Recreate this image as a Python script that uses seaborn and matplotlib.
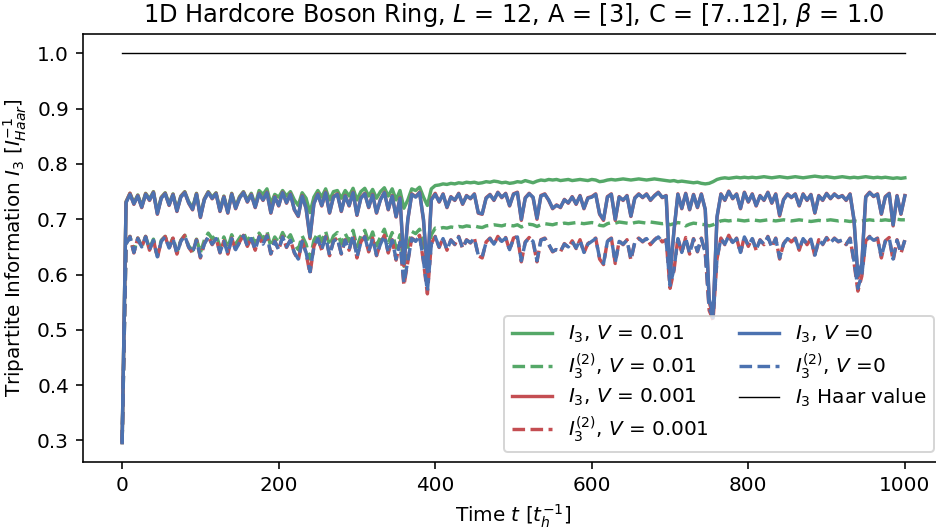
import numpy as np
import pandas as pd
import matplotlib
matplotlib.use("Agg")
import matplotlib.pyplot as plt
import seaborn as sns

# time grid (t_h^-1)
time = np.arange(0, 1001, 5)

# I3, V = 0 (blue solid)
i3_v0 = [
    0.296, 0.730, 0.745, 0.728, 0.742, 0.722, 0.745, 0.735, 0.748, 0.710,
    0.738, 0.746, 0.726, 0.744, 0.715, 0.740, 0.748, 0.730, 0.718, 0.745,
    0.704, 0.735, 0.748, 0.738, 0.746, 0.715, 0.740, 0.712, 0.745, 0.720,
    0.738, 0.748, 0.732, 0.744, 0.722, 0.746, 0.735, 0.748, 0.712, 0.740,
    0.725, 0.748, 0.730, 0.745, 0.718, 0.706, 0.742, 0.720, 0.668, 0.728,
    0.745, 0.725, 0.748, 0.712, 0.740, 0.745, 0.715, 0.742, 0.725, 0.748,
    0.708, 0.738, 0.746, 0.722, 0.744, 0.712, 0.735, 0.748, 0.718, 0.742,
    0.705, 0.738, 0.620, 0.700, 0.745, 0.740, 0.748, 0.700, 0.605, 0.735,
    0.745, 0.732, 0.745, 0.722, 0.740, 0.735, 0.746, 0.728, 0.742, 0.738,
    0.745, 0.712, 0.710, 0.738, 0.744, 0.735, 0.748, 0.740, 0.746, 0.725,
    0.745, 0.748, 0.700, 0.738, 0.746, 0.740, 0.702, 0.742, 0.745, 0.735,
    0.720, 0.725, 0.722, 0.735, 0.730, 0.740, 0.728, 0.742, 0.720, 0.738,
    0.740, 0.745, 0.710, 0.700, 0.740, 0.745, 0.700, 0.740, 0.735, 0.742,
    0.706, 0.738, 0.745, 0.740, 0.745, 0.735, 0.742, 0.748, 0.740, 0.742,
    0.600, 0.680, 0.745, 0.720, 0.746, 0.718, 0.744, 0.722, 0.745, 0.718,
    0.555, 0.530, 0.705, 0.745, 0.735, 0.750, 0.738, 0.745, 0.720, 0.748,
    0.732, 0.745, 0.725, 0.742, 0.735, 0.748, 0.730, 0.745, 0.708, 0.735,
    0.745, 0.740, 0.745, 0.725, 0.745, 0.735, 0.744, 0.712, 0.742, 0.735,
    0.746, 0.738, 0.745, 0.740, 0.742, 0.735, 0.745, 0.700, 0.598, 0.620,
    0.740, 0.748, 0.742, 0.745, 0.710, 0.740, 0.746, 0.690, 0.742, 0.710,
    0.742,
]

# I3^(2), V = 0 (blue dashed)
i32_v0 = [
    0.296, 0.655, 0.668, 0.640, 0.665, 0.650, 0.668, 0.645, 0.662, 0.632,
    0.660, 0.668, 0.648, 0.665, 0.638, 0.660, 0.670, 0.650, 0.640, 0.662,
    0.632, 0.655, 0.668, 0.655, 0.665, 0.640, 0.660, 0.638, 0.665, 0.645,
    0.658, 0.670, 0.652, 0.665, 0.645, 0.668, 0.655, 0.670, 0.638, 0.660,
    0.645, 0.668, 0.650, 0.662, 0.640, 0.628, 0.660, 0.640, 0.605, 0.650,
    0.665, 0.645, 0.668, 0.635, 0.660, 0.665, 0.638, 0.662, 0.645, 0.670,
    0.632, 0.658, 0.668, 0.642, 0.665, 0.635, 0.655, 0.670, 0.640, 0.662,
    0.628, 0.658, 0.585, 0.625, 0.665, 0.660, 0.670, 0.625, 0.570, 0.655,
    0.668, 0.650, 0.665, 0.645, 0.662, 0.655, 0.668, 0.648, 0.662, 0.658,
    0.665, 0.635, 0.632, 0.658, 0.665, 0.655, 0.668, 0.660, 0.666, 0.645,
    0.665, 0.668, 0.625, 0.658, 0.666, 0.660, 0.625, 0.662, 0.665, 0.655,
    0.642, 0.645, 0.642, 0.655, 0.650, 0.660, 0.648, 0.662, 0.640, 0.655,
    0.660, 0.665, 0.630, 0.620, 0.660, 0.665, 0.622, 0.660, 0.655, 0.662,
    0.628, 0.658, 0.665, 0.660, 0.665, 0.655, 0.662, 0.668, 0.660, 0.662,
    0.580, 0.610, 0.665, 0.640, 0.666, 0.638, 0.664, 0.642, 0.665, 0.640,
    0.540, 0.522, 0.630, 0.665, 0.655, 0.670, 0.658, 0.665, 0.640, 0.668,
    0.652, 0.665, 0.645, 0.662, 0.655, 0.668, 0.650, 0.665, 0.630, 0.655,
    0.665, 0.660, 0.665, 0.645, 0.665, 0.655, 0.664, 0.635, 0.662, 0.655,
    0.666, 0.658, 0.665, 0.660, 0.662, 0.655, 0.665, 0.625, 0.575, 0.600,
    0.660, 0.668, 0.662, 0.665, 0.632, 0.660, 0.666, 0.628, 0.662, 0.640,
    0.662,
]

# I3, V = 0.001 (red solid)
i3_v0001 = [
    0.296, 0.731, 0.747, 0.727, 0.743, 0.721, 0.746, 0.734, 0.749, 0.709,
    0.739, 0.747, 0.725, 0.745, 0.714, 0.741, 0.749, 0.729, 0.717, 0.746,
    0.703, 0.736, 0.749, 0.737, 0.747, 0.714, 0.741, 0.711, 0.746, 0.719,
    0.739, 0.749, 0.731, 0.745, 0.721, 0.747, 0.734, 0.749, 0.711, 0.741,
    0.724, 0.749, 0.729, 0.746, 0.717, 0.705, 0.743, 0.719, 0.665, 0.729,
    0.746, 0.724, 0.749, 0.711, 0.741, 0.746, 0.714, 0.743, 0.724, 0.749,
    0.707, 0.739, 0.747, 0.721, 0.745, 0.711, 0.736, 0.749, 0.717, 0.743,
    0.704, 0.739, 0.616, 0.699, 0.746, 0.741, 0.749, 0.698, 0.600, 0.736,
    0.747, 0.731, 0.746, 0.721, 0.741, 0.734, 0.747, 0.727, 0.743, 0.737,
    0.746, 0.711, 0.709, 0.739, 0.745, 0.734, 0.749, 0.739, 0.747, 0.724,
    0.746, 0.749, 0.698, 0.739, 0.747, 0.739, 0.700, 0.743, 0.746, 0.734,
    0.719, 0.726, 0.721, 0.736, 0.729, 0.741, 0.727, 0.743, 0.719, 0.739,
    0.741, 0.746, 0.709, 0.698, 0.741, 0.746, 0.698, 0.741, 0.734, 0.743,
    0.705, 0.739, 0.746, 0.739, 0.746, 0.734, 0.743, 0.749, 0.739, 0.743,
    0.595, 0.678, 0.746, 0.719, 0.747, 0.717, 0.745, 0.721, 0.746, 0.717,
    0.550, 0.525, 0.703, 0.746, 0.734, 0.751, 0.737, 0.746, 0.719, 0.749,
    0.731, 0.746, 0.724, 0.743, 0.734, 0.749, 0.729, 0.746, 0.706, 0.736,
    0.746, 0.739, 0.746, 0.724, 0.746, 0.734, 0.745, 0.711, 0.743, 0.734,
    0.747, 0.737, 0.746, 0.739, 0.743, 0.734, 0.746, 0.698, 0.594, 0.618,
    0.741, 0.749, 0.741, 0.746, 0.709, 0.741, 0.747, 0.688, 0.743, 0.709,
    0.743,
]

# I3^(2), V = 0.001 (red dashed)
i32_v0001 = [
    0.296, 0.656, 0.669, 0.639, 0.666, 0.649, 0.669, 0.644, 0.663, 0.630,
    0.661, 0.669, 0.647, 0.666, 0.637, 0.661, 0.671, 0.649, 0.639, 0.663,
    0.630, 0.656, 0.669, 0.654, 0.666, 0.639, 0.661, 0.637, 0.666, 0.644,
    0.659, 0.671, 0.651, 0.666, 0.644, 0.669, 0.654, 0.671, 0.637, 0.661,
    0.644, 0.669, 0.649, 0.663, 0.639, 0.626, 0.661, 0.639, 0.601, 0.651,
    0.666, 0.644, 0.669, 0.634, 0.661, 0.666, 0.637, 0.663, 0.644, 0.671,
    0.630, 0.659, 0.669, 0.641, 0.666, 0.634, 0.656, 0.671, 0.639, 0.663,
    0.626, 0.659, 0.580, 0.623, 0.666, 0.661, 0.671, 0.623, 0.565, 0.656,
    0.669, 0.649, 0.666, 0.644, 0.663, 0.654, 0.669, 0.647, 0.663, 0.657,
    0.666, 0.634, 0.630, 0.659, 0.666, 0.654, 0.669, 0.659, 0.667, 0.644,
    0.666, 0.669, 0.623, 0.659, 0.667, 0.659, 0.623, 0.663, 0.666, 0.654,
    0.641, 0.646, 0.641, 0.656, 0.649, 0.661, 0.647, 0.663, 0.639, 0.656,
    0.661, 0.666, 0.628, 0.618, 0.661, 0.666, 0.620, 0.661, 0.654, 0.663,
    0.626, 0.659, 0.666, 0.659, 0.666, 0.654, 0.663, 0.669, 0.659, 0.663,
    0.575, 0.607, 0.666, 0.639, 0.667, 0.637, 0.665, 0.641, 0.666, 0.639,
    0.535, 0.518, 0.628, 0.666, 0.654, 0.671, 0.657, 0.666, 0.639, 0.669,
    0.651, 0.666, 0.644, 0.663, 0.654, 0.669, 0.649, 0.666, 0.628, 0.656,
    0.666, 0.659, 0.666, 0.644, 0.666, 0.654, 0.665, 0.633, 0.663, 0.654,
    0.667, 0.657, 0.666, 0.659, 0.663, 0.654, 0.666, 0.622, 0.570, 0.597,
    0.661, 0.669, 0.661, 0.666, 0.630, 0.661, 0.667, 0.625, 0.663, 0.638,
    0.663,
]

# I3, V = 0.01 (green solid)
i3_v001 = [
    0.296, 0.732, 0.747, 0.730, 0.744, 0.724, 0.747, 0.737, 0.750, 0.713,
    0.740, 0.748, 0.728, 0.746, 0.718, 0.742, 0.750, 0.732, 0.721, 0.747,
    0.707, 0.737, 0.750, 0.740, 0.748, 0.718, 0.742, 0.715, 0.747, 0.723,
    0.741, 0.750, 0.735, 0.747, 0.726, 0.752, 0.745, 0.755, 0.728, 0.745,
    0.740, 0.752, 0.742, 0.750, 0.735, 0.725, 0.748, 0.738, 0.712, 0.740,
    0.752, 0.740, 0.755, 0.735, 0.750, 0.752, 0.738, 0.752, 0.742, 0.756,
    0.735, 0.750, 0.756, 0.742, 0.754, 0.738, 0.750, 0.757, 0.742, 0.755,
    0.735, 0.752, 0.720, 0.735, 0.755, 0.752, 0.758, 0.740, 0.725, 0.755,
    0.761, 0.762, 0.764, 0.763, 0.765, 0.764, 0.766, 0.765, 0.767, 0.766,
    0.767, 0.765, 0.766, 0.768, 0.767, 0.769, 0.768, 0.766, 0.767, 0.765,
    0.766, 0.768, 0.767, 0.770, 0.768, 0.766, 0.769, 0.771, 0.770, 0.772,
    0.771, 0.772, 0.770, 0.771, 0.772, 0.770, 0.771, 0.772, 0.771, 0.770,
    0.772, 0.771, 0.768, 0.769, 0.771, 0.772, 0.771, 0.772, 0.773, 0.772,
    0.771, 0.772, 0.773, 0.772, 0.771, 0.772, 0.773, 0.772, 0.771, 0.770,
    0.769, 0.770, 0.768, 0.769, 0.768, 0.767, 0.766, 0.767, 0.765, 0.764,
    0.765, 0.768, 0.772, 0.774, 0.775, 0.774, 0.775, 0.776, 0.775, 0.776,
    0.775, 0.776, 0.775, 0.776, 0.777, 0.776, 0.775, 0.776, 0.777, 0.776,
    0.775, 0.776, 0.777, 0.776, 0.775, 0.776, 0.777, 0.778, 0.777, 0.776,
    0.777, 0.776, 0.775, 0.776, 0.777, 0.776, 0.775, 0.776, 0.775, 0.776,
    0.777, 0.776, 0.775, 0.776, 0.775, 0.776, 0.775, 0.774, 0.775, 0.774,
    0.775,
]

# I3^(2), V = 0.01 (green dashed)
i32_v001 = [
    0.296, 0.656, 0.669, 0.642, 0.666, 0.652, 0.669, 0.647, 0.664, 0.635,
    0.662, 0.669, 0.650, 0.667, 0.641, 0.662, 0.671, 0.652, 0.643, 0.664,
    0.640, 0.662, 0.675, 0.665, 0.672, 0.650, 0.668, 0.648, 0.672, 0.655,
    0.666, 0.676, 0.660, 0.672, 0.655, 0.675, 0.664, 0.678, 0.650, 0.668,
    0.658, 0.676, 0.662, 0.672, 0.655, 0.645, 0.670, 0.655, 0.628, 0.662,
    0.675, 0.660, 0.678, 0.652, 0.670, 0.676, 0.655, 0.674, 0.660, 0.680,
    0.650, 0.670, 0.680, 0.658, 0.677, 0.652, 0.668, 0.682, 0.658, 0.676,
    0.648, 0.672, 0.615, 0.648, 0.678, 0.674, 0.682, 0.650, 0.618, 0.672,
    0.684, 0.683, 0.685, 0.684, 0.686, 0.685, 0.687, 0.686, 0.688, 0.687,
    0.688, 0.686, 0.685, 0.688, 0.689, 0.690, 0.689, 0.688, 0.690, 0.689,
    0.688, 0.690, 0.686, 0.689, 0.691, 0.690, 0.687, 0.690, 0.692, 0.691,
    0.690, 0.692, 0.691, 0.693, 0.692, 0.693, 0.694, 0.693, 0.692, 0.693,
    0.694, 0.693, 0.689, 0.688, 0.692, 0.694, 0.693, 0.695, 0.694, 0.693,
    0.692, 0.694, 0.695, 0.694, 0.693, 0.695, 0.694, 0.693, 0.692, 0.693,
    0.690, 0.692, 0.694, 0.693, 0.688, 0.691, 0.693, 0.692, 0.691, 0.690,
    0.688, 0.690, 0.694, 0.697, 0.698, 0.697, 0.698, 0.699, 0.698, 0.697,
    0.698, 0.699, 0.698, 0.697, 0.698, 0.699, 0.698, 0.697, 0.698, 0.699,
    0.698, 0.697, 0.698, 0.699, 0.698, 0.697, 0.696, 0.697, 0.698, 0.697,
    0.698, 0.699, 0.698, 0.697, 0.698, 0.697, 0.696, 0.697, 0.696, 0.697,
    0.698, 0.699, 0.698, 0.699, 0.698, 0.699, 0.698, 0.699, 0.700, 0.699,
    0.699,
]

# Haar reference
haar_t = [0, 1000]
haar_val = [1.0, 1.0]

labels = [
    r"$I_3$, $V$ = 0.01",
    r"$I_3^{(2)}$, $V$ = 0.01",
    r"$I_3$, $V$ = 0.001",
    r"$I_3^{(2)}$, $V$ = 0.001",
    r"$I_3$, $V$ =0",
    r"$I_3^{(2)}$, $V$ =0",
    r"$I_3$ Haar value",
]

green = "#55A868"
red = "#C44E52"
blue = "#4C72B0"

fig = plt.figure(figsize=(936 / 144, 532 / 144), dpi=144)
ax = fig.add_axes([83 / 936, 70 / 532, 861 / 936, 428 / 532])

series = [
    (i3_v001, green, "-", labels[0]),
    (i32_v001, green, "--", labels[1]),
    (i3_v0001, red, "-", labels[2]),
    (i32_v0001, red, "--", labels[3]),
    (i3_v0, blue, "-", labels[4]),
    (i32_v0, blue, "--", labels[5]),
]
for vals, col, ls, lab in series:
    df = pd.DataFrame({"t": time, "v": vals})
    sns.lineplot(data=df, x="t", y="v", color=col, linestyle=ls, lw=1.7,
                 estimator=None, label=lab, ax=ax)

sns.lineplot(x=haar_t, y=haar_val, color="black", lw=0.7, estimator=None,
             label=labels[6], ax=ax)

ax.set_yticks([0.3, 0.4, 0.5, 0.6, 0.7, 0.8, 0.9, 1.0])
ax.set_xticks([0, 200, 400, 600, 800, 1000])
ax.set_title(r"1D Hardcore Boson Ring, $L$ = 12, A = [3], C = [7..12], $\beta$ = 1.0")
ax.set_xlabel(r"Time $t$ [$t_h^{-1}$]")
ax.set_ylabel(r"Tripartite Information $I_3$ [$I_{Haar}^{-1}$]")
ax.legend(ncol=2, loc="lower right", labelspacing=0.3, columnspacing=1.5)

fig.savefig("out.png", dpi=144)
